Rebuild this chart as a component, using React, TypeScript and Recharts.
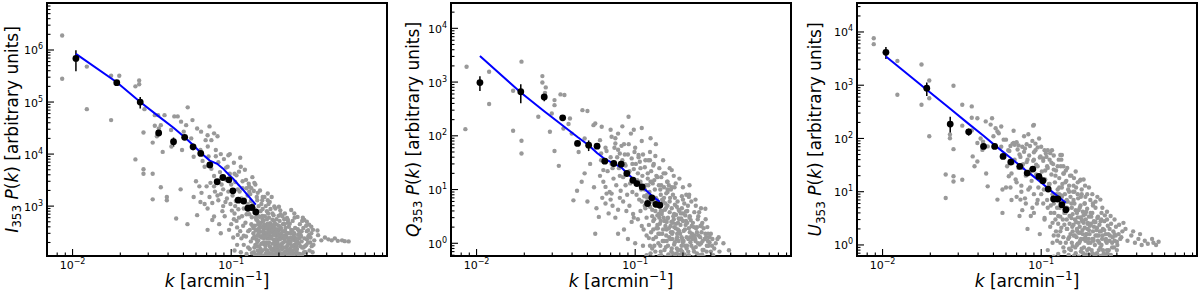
import React from 'react';
import { ScatterChart, Scatter, XAxis, YAxis, ErrorBar, ReferenceArea } from 'recharts';

// binned wavenumbers, shared by the three panels [arcmin^-1]
const kBins = [0.0105, 0.019, 0.0267, 0.0349, 0.0433, 0.0509, 0.0575, 0.0643, 0.0733, 0.0816, 0.0886, 0.0967, 0.1025, 0.1107, 0.1197, 0.1274, 0.135, 0.143];

// I353
const iBinned = [6.9e5, 2.36e5, 1.0e5, 2.54e4, 1.73e4, 2.1e4, 1.38e4, 1.03e4, 6.2e3, 2.94e3, 3.55e3, 3.2e3, 1.97e3, 1.3e3, 1.25e3, 910, 940, 770];
const iSigma = [3.0e5, 2.0e4, 2.5e4, 2.0e3, 3.5e3, 2.0e3, 2.0e3, 1.0e3, 500, 250, 300, 250, 150, 100, 100, 70, 70, 60];
const iModel = [8.4e5, 2.4e5, 1.0e5, 5.3e4, 3.2e4, 2.1e4, 1.5e4, 1.06e4, 7.5e3, 6.5e3, 5.3e3, 4.0e3, 3.4e3, 2.6e3, 2.0e3, 1.6e3, 1.3e3, 1.07e3];
const iScatter: [number, number][] = [
  [0.0086, 1.9e6], [0.0086, 2.8e5], [0.0123, 4.8e5], [0.0123, 7.3e4], [0.0175, 3.2e5], [0.0197, 3.2e5], [0.0175, 4.5e4],
  [0.0249, 2.0e5], [0.0263, 2.6e5], [0.0263, 2.2e5], [0.0284, 7.3e4], [0.0249, 7.9e3], [0.028, 2.6e4], [0.028, 5.1e3],
  [0.028, 4.2e3], [0.032, 1.66e4], [0.032, 4.2e3], [0.032, 1.35e3], [0.033, 5.6e4], [0.0346, 5.6e4], [0.038, 5.6e4],
  [0.033, 3.5e4], [0.036, 3.6e4], [0.035, 3.1e4], [0.034, 2.2e4], [0.036, 2.3e3], [0.0393, 1.5e3], [0.0393, 1.3e3],
  [0.037, 1.1e4], [0.0418, 2.9e4], [0.0438, 5.3e4], [0.046, 5.3e4], [0.045, 580], [0.042, 1.4e4], [0.0483, 4.2e4],
  [0.0532, 7.9e4], [0.052, 3.6e4], [0.0502, 2.7e4], [0.048, 2.1e3], [0.053, 450], [0.049, 1.2e4], [0.056, 2.0e4],
  [0.057, 4.5e4], [0.058, 8.9e3], [0.061, 3.1e4], [0.0646, 2.7e4], [0.064, 1.2e4], [0.066, 7.4e3], [0.06, 3.0e3],
  [0.063, 2.4e3], [0.058, 1.5e3], [0.064, 1.2e3], [0.061, 670], [0.068, 5.7e3], [0.0712, 1.4e4], [0.075, 1.85e4],
  [0.078, 2.5e4], [0.069, 1.85e4], [0.071, 2.3e4], [0.073, 3.4e4], [0.082, 2.2e4], [0.08, 9.1e3], [0.086, 1.0e4],
  [0.098, 1.0e4], [0.095, 5.7e3], [0.088, 3.6e3], [0.078, 2.4e3], [0.082, 1.6e3], [0.071, 900], [0.078, 630],
  [0.071, 350], [0.086, 300], [0.105, 720], [0.105, 4.2e3], [0.115, 5.7e3], [0.124, 3.2e3], [0.13, 2.4e3], [0.14, 2.8e3],
  [0.147, 1.8e3], [0.158, 1.5e3], [0.17, 1.3e3], [0.187, 980], [0.218, 720], [0.228, 540], [0.25, 300], [0.32, 300],
  [0.37, 220], [0.43, 220], [0.45, 240], [0.5, 220], [0.55, 210], [0.35, 340], [0.32, 400], [0.28, 520], [0.25, 720],
  [0.105, 140], [0.353, 277], [0.39, 250], [0.41, 230], [0.47, 215], [0.52, 212], [0.289, 540], [0.306, 346],
  [0.239, 840], [0.2, 970], [0.17, 1750], [0.18, 1500],
  [0.072, 9000], [0.075, 5200], [0.078, 3800], [0.074, 2800], [0.08, 12000], [0.083, 7000], [0.085, 4500],
  [0.087, 2600], [0.079, 1900], [0.09, 8000], [0.092, 1200], [0.088, 800], [0.084, 450], [0.093, 5500], [0.096, 9500],
  [0.098, 4200], [0.1, 2600], [0.102, 1600], [0.104, 6800], [0.106, 1000], [0.108, 3900], [0.11, 2100], [0.112, 600],
  [0.114, 8500], [0.116, 1400], [0.118, 3000], [0.12, 900], [0.097, 350], [0.103, 250], [0.109, 180], [0.119, 420],
  [0.115, 130], [0.122, 5000], [0.125, 2200], [0.127, 1100], [0.13, 700], [0.132, 1700], [0.134, 450], [0.136, 3600],
  [0.138, 300], [0.14, 900], [0.142, 2600], [0.144, 550], [0.146, 1300], [0.148, 220], [0.15, 380], [0.128, 160],
  [0.124, 260], [0.139, 130], [0.145, 170], [0.152, 2000], [0.155, 1100], [0.157, 650], [0.162, 1500], [0.168, 800],
  [0.175, 1200], [0.182, 550], [0.19, 900], [0.199, 650], [0.173, 600], [0.186, 380], [0.205, 700], [0.217, 450],
  [0.228, 480], [0.262, 620], [0.3, 500], [0.31, 280],
  [0.065, 1800], [0.068, 1100], [0.07, 2400], [0.073, 1500], [0.076, 1150], [0.081, 2900], [0.083, 1300], [0.086, 1700],
  [0.089, 2100], [0.091, 640], [0.094, 1400], [0.096, 1900], [0.099, 1100], [0.093, 3200], [0.089, 1000], [0.076, 540],
];
const iCloud: [number, number][] = [
  [0.141, 420], [0.152, 265], [0.163, 180], [0.147, 140], [0.171, 350], [0.158, 560], [0.184, 230], [0.166, 125],
  [0.195, 160], [0.176, 470], [0.149, 300], [0.205, 290], [0.188, 115], [0.213, 200], [0.156, 190], [0.226, 140],
  [0.182, 380], [0.238, 250], [0.169, 240], [0.2, 420], [0.248, 170], [0.161, 360], [0.219, 330], [0.179, 145],
  [0.262, 210], [0.192, 270], [0.233, 120], [0.144, 230], [0.209, 150], [0.274, 280], [0.173, 200], [0.243, 340],
  [0.186, 520], [0.154, 130], [0.228, 205], [0.197, 128], [0.286, 160], [0.167, 300], [0.255, 125], [0.215, 460],
  [0.178, 113], [0.3, 230], [0.203, 360], [0.159, 410], [0.268, 330], [0.236, 155], [0.19, 175], [0.147, 520],
  [0.222, 260], [0.25, 220], [0.174, 260], [0.28, 118], [0.207, 118], [0.164, 150], [0.243, 120], [0.194, 360],
  [0.231, 400], [0.183, 310], [0.26, 150], [0.211, 245],
  [0.101, 820], [0.104, 560], [0.107, 1250], [0.109, 390], [0.111, 870], [0.113, 1900], [0.117, 640], [0.121, 1350],
  [0.123, 480], [0.126, 930], [0.129, 2700], [0.131, 350], [0.133, 1250], [0.106, 2900], [0.112, 4600], [0.118, 2200],
  [0.127, 1600], [0.12, 270], [0.114, 330], [0.108, 520], [0.125, 700], [0.13, 1900],
  [0.135, 610], [0.137, 1050], [0.139, 1950], [0.141, 780], [0.143, 340], [0.145, 1500], [0.147, 660], [0.149, 1000],
  [0.151, 450], [0.153, 800], [0.155, 190], [0.157, 1300], [0.159, 280], [0.16, 520], [0.137, 240], [0.142, 180],
  [0.148, 120], [0.153, 150], [0.134, 2200], [0.14, 160], [0.146, 270], [0.151, 620], [0.156, 390], [0.158, 880],
  [0.136, 420], [0.144, 730],
  [0.161, 240], [0.163, 640], [0.165, 1000], [0.167, 420], [0.169, 140], [0.171, 720], [0.173, 330], [0.175, 170],
  [0.177, 880], [0.179, 260], [0.181, 430], [0.183, 150], [0.185, 670], [0.187, 200], [0.189, 460], [0.191, 120],
  [0.193, 560], [0.195, 230], [0.197, 330], [0.199, 140], [0.162, 310], [0.166, 200], [0.17, 460], [0.174, 125],
  [0.178, 360], [0.182, 720], [0.186, 280], [0.19, 220], [0.194, 440], [0.198, 180], [0.168, 560], [0.176, 240],
  [0.184, 118], [0.192, 340], [0.164, 115], [0.172, 1100],
  [0.202, 520], [0.204, 250], [0.207, 170], [0.21, 640], [0.212, 330], [0.214, 125], [0.217, 240], [0.22, 380],
  [0.223, 160], [0.225, 590], [0.228, 300], [0.231, 190], [0.234, 460], [0.237, 210], [0.24, 130], [0.244, 520],
  [0.247, 290], [0.25, 180], [0.253, 380], [0.256, 240], [0.259, 130], [0.204, 830], [0.216, 560], [0.227, 115],
  [0.239, 350], [0.251, 600], [0.212, 450], [0.224, 250], [0.236, 300], [0.257, 170], [0.206, 380], [0.219, 135],
  [0.242, 240],
  [0.263, 360], [0.267, 190], [0.271, 450], [0.276, 260], [0.28, 160], [0.285, 380], [0.29, 240], [0.295, 130],
  [0.3, 330], [0.305, 200], [0.31, 440], [0.316, 250], [0.322, 170], [0.328, 350], [0.334, 220], [0.27, 120],
  [0.283, 600], [0.297, 420], [0.312, 140], [0.326, 130], [0.264, 280], [0.278, 330], [0.292, 170], [0.306, 260],
];
const iCore: [number, number][] = [
  [0.131, 150], [0.133, 210], [0.135, 125], [0.138, 380], [0.14, 260], [0.142, 115], [0.143, 600], [0.145, 350],
  [0.146, 205], [0.148, 450], [0.15, 170], [0.151, 330], [0.153, 115], [0.154, 480], [0.155, 250], [0.157, 140],
  [0.158, 320], [0.16, 200], [0.161, 112], [0.162, 440], [0.164, 260], [0.165, 175], [0.167, 380], [0.168, 130],
  [0.17, 290], [0.171, 195], [0.172, 110], [0.174, 410], [0.175, 300], [0.177, 160], [0.178, 250], [0.18, 120],
  [0.181, 340], [0.183, 190], [0.185, 140], [0.186, 420], [0.188, 300], [0.189, 160], [0.19, 112], [0.192, 230],
  [0.193, 140], [0.195, 310], [0.196, 200], [0.198, 118], [0.199, 270], [0.201, 165], [0.203, 230], [0.205, 125],
  [0.207, 300], [0.209, 190], [0.211, 112], [0.213, 270], [0.215, 160], [0.218, 210], [0.221, 125], [0.223, 300],
  [0.226, 175], [0.229, 240], [0.232, 140], [0.235, 200], [0.238, 112], [0.241, 175], [0.245, 140], [0.249, 260],
  [0.253, 150], [0.258, 200], [0.263, 120], [0.268, 240], [0.273, 170], [0.278, 210], [0.288, 130], [0.298, 180],
  [0.315, 200], [0.33, 180], [0.12, 180], [0.116, 240], [0.125, 120], [0.128, 330], [0.11, 280], [0.1, 450],
  [0.156, 105], [0.176, 102], [0.196, 104], [0.222, 102], [0.25, 105], [0.14, 104], [0.185, 96], [0.21, 98],
];

// Q353
const qBinned = [980, 660, 530, 216, 72, 67, 64, 33.7, 30.5, 29.6, 19.9, 14.9, 12.9, 11.2, 5.5, 7.0, 5.3, 5.1];
const qSigma = [300, 255, 90, 20, 6, 15, 6, 3, 2.5, 2.5, 1.5, 1.2, 1, 0.9, 0.5, 0.6, 0.4, 0.4];
const qModel = [3050, 640, 287, 155, 95, 67, 48, 37, 30.3, 26, 20.3, 16, 13.6, 11.1, 9.1, 7.7, 6.7, 5.9];
const qScatter: [number, number][] = [
  [0.00865, 1930], [0.0085, 133], [0.012, 1560], [0.012, 390], [0.017, 690], [0.017, 124], [0.0192, 2400], [0.0192, 81],
  [0.0192, 47], [0.0245, 226], [0.026, 1290], [0.026, 980], [0.0273, 795], [0.027, 630], [0.0298, 260], [0.029, 119],
  [0.031, 52], [0.033, 27.6], [0.0338, 590], [0.0358, 575], [0.031, 462], [0.031, 372], [0.0388, 210], [0.0353, 137],
  [0.038, 166], [0.0398, 110], [0.0408, 6.3], [0.0465, 300], [0.05, 290], [0.044, 50], [0.048, 89], [0.048, 20],
  [0.0546, 158], [0.056, 170], [0.0615, 147], [0.06, 83], [0.061, 47], [0.063, 23], [0.065, 11.2], [0.068, 3.6],
  [0.071, 8.4], [0.071, 96], [0.078, 110], [0.075, 72], [0.08, 47], [0.086, 30], [0.0908, 226], [0.059, 3.1],
  [0.056, 1.5], [0.043, 9.5], [0.046, 14], [0.05, 6], [0.052, 30], [0.055, 11], [0.057, 4.5], [0.06, 18], [0.062, 7],
  [0.065, 60], [0.07, 40], [0.072, 25], [0.075, 90], [0.078, 55], [0.08, 18], [0.083, 35], [0.085, 70], [0.087, 12],
  [0.09, 45], [0.092, 22], [0.094, 110], [0.096, 30], [0.1, 60], [0.103, 15], [0.105, 40], [0.108, 25], [0.11, 80],
  [0.113, 11], [0.116, 35], [0.12, 20], [0.124, 50], [0.127, 14], [0.13, 28], [0.134, 42], [0.138, 17], [0.142, 25],
  [0.146, 12], [0.15, 35], [0.155, 20], [0.16, 14], [0.165, 25], [0.17, 11], [0.175, 18], [0.18, 13], [0.19, 16],
  [0.2, 11], [0.21, 8], [0.22, 12], [0.24, 6.5], [0.26, 4.5], [0.277, 4.4], [0.218, 7.3], [0.336, 1.3], [0.07, 130],
  [0.083, 150], [0.098, 130], [0.11, 140], [0.125, 90], [0.135, 70], [0.066, 8.4], [0.072, 5], [0.08, 7], [0.088, 4],
  [0.095, 2.5], [0.085, 1.8], [0.075, 3], [0.09, 1.2], [0.1, 1.0], [0.078, 1.5], [0.124, 35], [0.105, 44], [0.17, 23],
];
const qCloud: [number, number][] = [
  [0.102, 8], [0.115, 5], [0.128, 3.2], [0.11, 2.1], [0.135, 7], [0.121, 12], [0.148, 4], [0.14, 1.5], [0.158, 2.5],
  [0.132, 0.9], [0.165, 6], [0.152, 1.1], [0.176, 3.5], [0.118, 1.4], [0.186, 1.8], [0.17, 0.8], [0.197, 4.5],
  [0.145, 0.7], [0.208, 2.2], [0.182, 1.2], [0.22, 3], [0.194, 0.75], [0.232, 1.4], [0.125, 0.65], [0.245, 2],
  [0.212, 0.9], [0.26, 1], [0.16, 9], [0.235, 0.7], [0.28, 1.3], [0.108, 4], [0.138, 2.2], [0.168, 1.6], [0.19, 2.8],
  [0.2, 1.05], [0.227, 2.1], [0.155, 5.5], [0.144, 10], [0.178, 7], [0.215, 5], [0.25, 3.2], [0.27, 0.75], [0.3, 1.5],
  [0.162, 0.62], [0.205, 0.62], [0.13, 1.8], [0.119, 7], [0.173, 2.4], [0.24, 1.1], [0.188, 4.2], [0.098, 3],
  [0.112, 0.9], [0.142, 3], [0.157, 1.4], [0.2, 6.5], [0.222, 1.3], [0.183, 0.65], [0.265, 2.4], [0.29, 0.9],
  [0.33, 1.2], [0.36, 1.0], [0.39, 0.74], [0.34, 0.7],
  [0.061, 35], [0.063, 14], [0.066, 52], [0.067, 22], [0.069, 9], [0.071, 30], [0.073, 16], [0.074, 60], [0.076, 12],
  [0.077, 40], [0.079, 25], [0.081, 9.5], [0.082, 65], [0.084, 17], [0.086, 45], [0.087, 28], [0.089, 8], [0.09, 20],
  [0.091, 70], [0.093, 13], [0.095, 38], [0.096, 9], [0.098, 24], [0.099, 50], [0.065, 5.5], [0.07, 6.5], [0.078, 4.2],
  [0.084, 6], [0.092, 5], [0.097, 3.5],
  [0.101, 30], [0.102, 13], [0.104, 20], [0.106, 6.5], [0.107, 33], [0.109, 10], [0.111, 18], [0.112, 45], [0.114, 7.5],
  [0.115, 26], [0.117, 12], [0.118, 3], [0.12, 16], [0.121, 35], [0.123, 9], [0.124, 4.8], [0.126, 22], [0.127, 6],
  [0.129, 13], [0.13, 2.6], [0.131, 30], [0.133, 10], [0.134, 4], [0.136, 18], [0.137, 6.5], [0.139, 1.9],
  [0.104, 2.8], [0.113, 1.8], [0.122, 1.25], [0.128, 0.8], [0.135, 1.3], [0.116, 4.5], [0.108, 14], [0.119, 8],
  [0.132, 15], [0.138, 3.3],
  [0.141, 12], [0.142, 5], [0.143, 2.3], [0.145, 8], [0.146, 17], [0.147, 3.5], [0.149, 1.1], [0.15, 6], [0.152, 11],
  [0.153, 2.6], [0.154, 4.2], [0.156, 0.85], [0.157, 8.5], [0.158, 1.8], [0.16, 5], [0.161, 3], [0.163, 12],
  [0.164, 1.3], [0.166, 7], [0.167, 2.1], [0.169, 0.7], [0.17, 4.5], [0.172, 1.6], [0.173, 8], [0.175, 2.8],
  [0.176, 0.95], [0.178, 5.2], [0.18, 1.9], [0.181, 3.4], [0.183, 0.8], [0.185, 6], [0.186, 2.4], [0.188, 1.1],
  [0.19, 4], [0.192, 1.5], [0.193, 0.62], [0.195, 2.9], [0.197, 7.5], [0.198, 1.2], [0.2, 3.6], [0.144, 0.9],
  [0.151, 20], [0.159, 14], [0.168, 10], [0.177, 11], [0.148, 1.5], [0.162, 0.6], [0.171, 1.2], [0.184, 1.5],
  [0.196, 0.9],
  [0.202, 1.7], [0.204, 5.5], [0.206, 0.9], [0.209, 2.6], [0.211, 1.3], [0.213, 4], [0.216, 0.7], [0.218, 1.9],
  [0.221, 3.2], [0.223, 1.05], [0.226, 6], [0.228, 1.5], [0.231, 2.4], [0.233, 0.8], [0.236, 3.8], [0.239, 1.2],
  [0.242, 1.9], [0.245, 0.65], [0.248, 2.8], [0.251, 1.4], [0.255, 0.95], [0.258, 2.1], [0.262, 1.6], [0.266, 0.75],
  [0.27, 1.9], [0.274, 1.2], [0.278, 2.8], [0.283, 0.9], [0.288, 1.5], [0.294, 1.05], [0.3, 0.7], [0.307, 1.2],
  [0.315, 0.8], [0.322, 1.0], [0.207, 3.3], [0.219, 8], [0.241, 5], [0.253, 3.8], [0.264, 0.62], [0.285, 2],
];
const qCore: [number, number][] = [
  [0.122, 2.2], [0.124, 0.9], [0.126, 1.6], [0.128, 4.2], [0.13, 1.2], [0.132, 2.8], [0.134, 0.7], [0.136, 1.9],
  [0.138, 5], [0.14, 1], [0.141, 3.5], [0.143, 1.5], [0.145, 2.6], [0.146, 0.6], [0.148, 6.5], [0.15, 1.8], [0.151, 3],
  [0.153, 0.75], [0.155, 2.1], [0.156, 4.5], [0.158, 1.1], [0.16, 2.9], [0.161, 0.9], [0.163, 1.9], [0.165, 3.8],
  [0.166, 1.2], [0.168, 0.55], [0.169, 2.5], [0.171, 1.5], [0.173, 0.65], [0.174, 3.2], [0.176, 2], [0.178, 1.05],
  [0.179, 0.6], [0.181, 2.3], [0.183, 4.8], [0.184, 1.3], [0.186, 0.75], [0.188, 2.9], [0.189, 1.7], [0.191, 0.58],
  [0.193, 2.2], [0.194, 3.6], [0.196, 1.3], [0.198, 0.7], [0.2, 2.6], [0.202, 1.1], [0.204, 0.55], [0.206, 1.8],
  [0.209, 3.9], [0.211, 0.8], [0.213, 2.4], [0.216, 1.2], [0.218, 0.6], [0.221, 1.6], [0.224, 2.7], [0.226, 0.9],
  [0.229, 1.2], [0.232, 0.55], [0.235, 2], [0.238, 1.4], [0.241, 0.85], [0.245, 1.6], [0.249, 1.0], [0.253, 0.6],
  [0.257, 1.3], [0.262, 2.2], [0.266, 1.1], [0.272, 0.55], [0.277, 1.5], [0.282, 0.7], [0.287, 1.1], [0.295, 1.3],
  [0.305, 0.9], [0.31, 0.6], [0.118, 0.6], [0.13, 0.55], [0.142, 0.58], [0.155, 0.55], [0.17, 0.5], [0.185, 0.52],
  [0.197, 0.5], [0.215, 0.5], [0.228, 0.52], [0.11, 6], [0.115, 10], [0.125, 14], [0.133, 6], [0.145, 4], [0.152, 7],
  [0.16, 10],
];

// U353
const uBinned = [4150, 880, 186, 133, 71, 71, 46, 36, 30, 22.4, 26.6, 19.4, 16.1, 11.2, 7.3, 7.3, 5.7, 4.6];
const uSigma = [1050, 250, 70, 20, 6, 5, 4, 3, 2.5, 2, 2, 1.5, 1.2, 1, 0.6, 0.6, 0.5, 0.4];
const uModel = [3450, 820, 360, 188, 112, 75, 56, 43, 31, 24, 19.8, 16, 13.9, 11.5, 9.5, 8.2, 7.1, 6.2];
const uScatter: [number, number][] = [
  [0.0088, 7600], [0.0088, 5900], [0.0124, 2860], [0.0124, 660], [0.0176, 2450], [0.0176, 430], [0.0197, 1230],
  [0.0197, 570], [0.0197, 110], [0.028, 975], [0.0266, 119], [0.0266, 101], [0.025, 21], [0.025, 7.6], [0.028, 19.5],
  [0.028, 15.5], [0.0318, 430], [0.0318, 174], [0.0318, 16.8], [0.0365, 400], [0.0365, 245], [0.0365, 141],
  [0.028, 63], [0.0396, 240], [0.0447, 209], [0.0396, 82], [0.0415, 100], [0.043, 87], [0.0426, 61], [0.046, 71],
  [0.048, 182], [0.049, 240], [0.05, 110], [0.053, 135], [0.0516, 155], [0.056, 168], [0.054, 125], [0.058, 95],
  [0.045, 22], [0.0396, 37], [0.038, 30], [0.037, 46], [0.046, 12.6], [0.053, 7.1], [0.057, 11], [0.057, 4],
  [0.0625, 19.5], [0.0672, 82], [0.064, 72], [0.068, 76], [0.072, 74], [0.076, 70], [0.078, 110], [0.081, 78],
  [0.085, 72], [0.092, 80], [0.095, 68], [0.089, 174], [0.09, 180], [0.074, 7.1], [0.086, 3.5], [0.09, 40],
  [0.099, 46], [0.109, 30], [0.12, 26], [0.132, 49], [0.138, 30], [0.114, 53], [0.105, 60],
  [0.062, 60], [0.066, 35], [0.07, 85], [0.073, 50], [0.076, 28], [0.079, 65], [0.082, 40], [0.085, 22], [0.088, 90],
  [0.09, 55], [0.093, 32], [0.096, 18], [0.1, 70], [0.103, 42], [0.106, 25], [0.11, 60], [0.113, 14], [0.116, 35],
  [0.12, 48], [0.123, 20], [0.127, 30], [0.13, 12], [0.134, 40], [0.138, 22], [0.142, 15], [0.146, 28], [0.15, 10],
  [0.155, 20], [0.16, 13], [0.165, 24], [0.17, 9], [0.175, 16], [0.18, 11], [0.185, 17], [0.19, 8], [0.2, 12],
  [0.21, 9], [0.22, 6.5], [0.236, 7.1], [0.177, 16.8], [0.135, 49], [0.07, 15], [0.075, 10], [0.08, 6], [0.085, 12],
  [0.09, 4], [0.095, 7], [0.1, 9], [0.105, 3], [0.11, 5], [0.073, 3.5], [0.082, 2], [0.098, 1.6], [0.065, 7],
  [0.06, 12],
  [0.32, 1.4], [0.35, 1.2], [0.37, 1.5], [0.39, 1.1], [0.41, 1.3], [0.43, 1.0], [0.45, 1.2], [0.47, 1.05], [0.5, 1.3],
  [0.51, 1.1], [0.53, 1.0], [0.55, 1.15], [0.34, 2], [0.38, 1.8], [0.42, 1.6],
];
const uCloud: [number, number][] = [
  [0.12, 6], [0.128, 3.5], [0.124, 1.8], [0.135, 8], [0.14, 2.4], [0.145, 5], [0.132, 1.1], [0.15, 1.4], [0.155, 3.2],
  [0.16, 7], [0.164, 0.9], [0.168, 2], [0.172, 4.5], [0.176, 1.2], [0.18, 3], [0.184, 0.7], [0.188, 6], [0.192, 1.6],
  [0.196, 2.5], [0.2, 0.85], [0.205, 4], [0.21, 1.3], [0.215, 2.2], [0.22, 0.65], [0.226, 3.2], [0.232, 1.1],
  [0.238, 1.8], [0.245, 0.8], [0.25, 2.8], [0.256, 1.3], [0.262, 0.7], [0.27, 2], [0.28, 1.1], [0.29, 1.6], [0.3, 0.8],
  [0.14, 0.75], [0.158, 1.8], [0.17, 1.05], [0.19, 3.8], [0.2, 1.9], [0.212, 5.5], [0.225, 1.5], [0.24, 4], [0.26, 3],
  [0.148, 11], [0.162, 10], [0.178, 8], [0.195, 9], [0.185, 1.3], [0.255, 0.65], [0.128, 0.68], [0.118, 1.1],
  [0.11, 0.8], [0.2, 0.65], [0.22, 2.7], [0.33, 2.6],
  [0.056, 70], [0.058, 45], [0.06, 95], [0.061, 30], [0.063, 58], [0.065, 22], [0.066, 80], [0.068, 40], [0.069, 17],
  [0.071, 62], [0.072, 28], [0.074, 45], [0.075, 13], [0.077, 33], [0.078, 56], [0.08, 20], [0.081, 36], [0.083, 11],
  [0.084, 48], [0.086, 26], [0.087, 16], [0.089, 38], [0.09, 9], [0.092, 60], [0.093, 21], [0.095, 30], [0.096, 12],
  [0.098, 44], [0.099, 17], [0.064, 12], [0.07, 8], [0.079, 7.5], [0.088, 5], [0.094, 6], [0.076, 4.5], [0.067, 140],
  [0.083, 120], [0.097, 100],
  [0.101, 24], [0.103, 38], [0.104, 11], [0.106, 17], [0.107, 52], [0.109, 7], [0.11, 28], [0.112, 14], [0.113, 40],
  [0.115, 5.5], [0.116, 21], [0.118, 9], [0.119, 33], [0.121, 4], [0.122, 15], [0.124, 25], [0.125, 7], [0.127, 11],
  [0.128, 2.5], [0.13, 18], [0.131, 5], [0.133, 30], [0.134, 8.5], [0.136, 14], [0.137, 3], [0.139, 22], [0.105, 3.2],
  [0.114, 2.2], [0.12, 1.5], [0.126, 1.2], [0.132, 1.8], [0.138, 0.9], [0.108, 45], [0.117, 60], [0.129, 40],
  [0.141, 9], [0.142, 4], [0.144, 16], [0.145, 2], [0.147, 6.5], [0.148, 1.3], [0.15, 13], [0.151, 3.5], [0.153, 8],
  [0.154, 0.8], [0.156, 5], [0.157, 2.2], [0.159, 10], [0.16, 1.5], [0.162, 6], [0.163, 3], [0.165, 0.7], [0.166, 12],
  [0.168, 4], [0.169, 1.8], [0.171, 7.5], [0.172, 2.6], [0.174, 1.1], [0.175, 5], [0.177, 3.3], [0.178, 0.75],
  [0.18, 9], [0.182, 1.9], [0.183, 4.2], [0.185, 2.6], [0.186, 0.9], [0.188, 6], [0.19, 1.4], [0.191, 3],
  [0.193, 0.66], [0.195, 4.8], [0.196, 2], [0.198, 1.1], [0.2, 3.4], [0.143, 25], [0.152, 20], [0.161, 18],
  [0.17, 15], [0.149, 0.65], [0.158, 0.95], [0.167, 1.4], [0.176, 1.7], [0.189, 13],
  [0.202, 1.6], [0.204, 7], [0.206, 2.5], [0.208, 0.8], [0.21, 4], [0.213, 1.3], [0.215, 2.8], [0.218, 1.0], [0.22, 5],
  [0.223, 1.9], [0.225, 0.7], [0.228, 3.4], [0.231, 1.5], [0.233, 2.4], [0.236, 0.9], [0.239, 3], [0.242, 1.3],
  [0.245, 2], [0.248, 0.7], [0.252, 3.6], [0.255, 1.6], [0.259, 1.1], [0.263, 2.3], [0.267, 0.8], [0.271, 1.5],
  [0.276, 2.5], [0.28, 0.9], [0.285, 1.8], [0.29, 1.2], [0.296, 2.2], [0.302, 1.0], [0.308, 1.6], [0.315, 1.3],
  [0.212, 6], [0.226, 8], [0.243, 5], [0.26, 4.2], [0.274, 3.5], [0.29, 3], [0.31, 2.4], [0.325, 1.8], [0.217, 0.66],
  [0.237, 0.62],
];
const uCore: [number, number][] = [
  [0.115, 4], [0.118, 2.6], [0.121, 7], [0.123, 3], [0.126, 5], [0.128, 1.5], [0.13, 9], [0.132, 3.4], [0.134, 2.1],
  [0.136, 5.5], [0.138, 1.4], [0.14, 4], [0.141, 6.5], [0.143, 1.1], [0.145, 3], [0.146, 2], [0.148, 4.8], [0.15, 0.85],
  [0.151, 2.5], [0.153, 1.6], [0.155, 6], [0.156, 1.1], [0.158, 3.8], [0.16, 2.4], [0.161, 0.62], [0.163, 1.5],
  [0.165, 4.5], [0.166, 2.7], [0.168, 1], [0.17, 3.3], [0.172, 1.7], [0.173, 0.6], [0.175, 2.2], [0.177, 5.5],
  [0.178, 1.3], [0.18, 0.85], [0.182, 2.8], [0.183, 1.6], [0.185, 3.6], [0.187, 0.6], [0.188, 2.1], [0.19, 1.2],
  [0.192, 4.2], [0.194, 1.6], [0.195, 0.8], [0.197, 2.6], [0.199, 1.3], [0.201, 0.55], [0.203, 2.3], [0.205, 1.1],
  [0.207, 3.4], [0.21, 0.7], [0.212, 1.8], [0.214, 1.2], [0.217, 2.7], [0.22, 1.5], [0.222, 0.55], [0.225, 2.1],
  [0.228, 1.2], [0.231, 0.8], [0.234, 1.8], [0.237, 2.8], [0.24, 1], [0.244, 1.5], [0.247, 0.6], [0.25, 1.9],
  [0.255, 1.2], [0.26, 0.8], [0.265, 1.6], [0.27, 1.2], [0.275, 0.65], [0.282, 1.4], [0.288, 0.9], [0.295, 1.5],
  [0.3, 1.15], [0.14, 0.55], [0.155, 0.5], [0.168, 0.52], [0.183, 0.5], [0.196, 0.55], [0.21, 0.5], [0.232, 0.55],
  [0.12, 0.6], [0.125, 9], [0.135, 12], [0.145, 7], [0.103, 6], [0.11, 12], [0.1, 18],
];

// axes
const xDomain: [number, number] = [0.0069, 0.96];
const xMajor = [0.01, 0.1];
const xMajorExp = ['−2', '−1'];
const xMinor = [0.008, 0.009, 0.02, 0.03, 0.04, 0.05, 0.06, 0.07, 0.08, 0.09, 0.2, 0.3, 0.4, 0.5, 0.6, 0.7, 0.8, 0.9];

const iDomain: [number, number] = [110, 8e6];
const iMajor = [1e3, 1e4, 1e5, 1e6];
const iMajorExp = ['3', '4', '5', '6'];
const iMinor = [200, 300, 400, 500, 600, 700, 800, 900, 2e3, 3e3, 4e3, 5e3, 6e3, 7e3, 8e3, 9e3, 2e4, 3e4, 4e4, 5e4, 6e4, 7e4, 8e4, 9e4, 2e5, 3e5, 4e5, 5e5, 6e5, 7e5, 8e5, 9e5, 2e6, 3e6, 4e6, 5e6, 6e6, 7e6];

const qDomain: [number, number] = [0.58, 2.96e4];
const uDomain: [number, number] = [0.62, 3.5e4];
const quMajor = [1, 10, 100, 1e3, 1e4];
const quMajorExp = ['0', '1', '2', '3', '4'];
const qMinor = [0.6, 0.7, 0.8, 0.9, 2, 3, 4, 5, 6, 7, 8, 9, 20, 30, 40, 50, 60, 70, 80, 90, 200, 300, 400, 500, 600, 700, 800, 900, 2e3, 3e3, 4e3, 5e3, 6e3, 7e3, 8e3, 9e3, 2e4];
const uMinor = [0.7, 0.8, 0.9, 2, 3, 4, 5, 6, 7, 8, 9, 20, 30, 40, 50, 60, 70, 80, 90, 200, 300, 400, 500, 600, 700, 800, 900, 2e3, 3e3, 4e3, 5e3, 6e3, 7e3, 8e3, 9e3, 2e4, 3e4];

const panelSymbols = ['I', 'Q', 'U'];

const FONT = '"DejaVu Sans", sans-serif';

const GrayDot = (p: any) => <circle cx={p.cx} cy={p.cy} r={2.2} fill="#999999" />;
const BlackDot = (p: any) => <circle cx={p.cx} cy={p.cy} r={3.4} fill="#000" />;
const NoDot = () => <g />;

const makeXTick = () => (props: any) => {
  const { x, y, payload } = props;
  const idx = xMajor.indexOf(payload.value);
  const major = idx >= 0;
  return (
    <g>
      <line x1={x} x2={x} y1={y} y2={y - (major ? 7 : 3.5)} stroke="#000" strokeWidth={1.1} />
      {major && (
        <text x={x} y={y + 13} textAnchor="middle" fontSize={11} fontFamily={FONT} fill="#000">
          10<tspan dy={-5} fontSize={8}>{xMajorExp[idx]}</tspan>
        </text>
      )}
    </g>
  );
};

const makeYTick = (majors: number[], exps: string[]) => (props: any) => {
  const { x, y, payload } = props;
  const idx = majors.indexOf(payload.value);
  const major = idx >= 0;
  return (
    <g>
      <line x1={x} x2={x + (major ? 7 : 3.5)} y1={y} y2={y} stroke="#000" strokeWidth={1.1} />
      {major && (
        <text x={x - 4} y={y + 4.5} textAnchor="end" fontSize={11} fontFamily={FONT} fill="#000">
          10<tspan dy={-5} fontSize={8}>{exps[idx]}</tspan>
        </text>
      )}
    </g>
  );
};

type PanelProps = {
  scatter: [number, number][];
  binned: number[];
  sigma: number[];
  model: number[];
  yDomain: [number, number];
  yMajor: number[];
  yMajorExp: string[];
  yMinor: number[];
  yAxisWidth: number;
  right: number;
};

const Panel = ({ scatter, binned, sigma, model, yDomain, yMajor, yMajorExp, yMinor, yAxisWidth, right }: PanelProps) => {
  const grayData = scatter.map(([k, p]) => ({ k, p }));
  const binData = kBins.map((k, i) => ({ k, p: binned[i], err: sigma[i] }));
  const modelData = kBins.map((k, i) => ({ k, p: model[i] }));
  const xTicks = [...xMinor, ...xMajor].sort((a, b) => a - b);
  const yTicks = [...yMinor, ...yMajor].sort((a, b) => a - b);

  return (
    <ScatterChart width={400} height={293} margin={{ top: 3, right, bottom: 0, left: 0 }}>
      <XAxis
        dataKey="k"
        type="number"
        scale="log"
        domain={xDomain}
        allowDataOverflow
        ticks={xTicks}
        interval={0}
        tick={makeXTick()}
        tickLine={false}
        axisLine={false}
        tickSize={0}
        tickMargin={0}
        height={37}
      />
      <YAxis
        dataKey="p"
        type="number"
        scale="log"
        domain={yDomain}
        allowDataOverflow
        ticks={yTicks}
        interval={0}
        tick={makeYTick(yMajor, yMajorExp)}
        tickLine={false}
        axisLine={false}
        tickSize={0}
        tickMargin={0}
        width={yAxisWidth}
      />
      <Scatter data={grayData} shape={GrayDot} isAnimationActive={false} />
      <Scatter data={modelData} shape={NoDot} line={{ stroke: '#0000ff', strokeWidth: 2 }} isAnimationActive={false} />
      <Scatter data={binData} shape={BlackDot} isAnimationActive={false}>
        <ErrorBar dataKey="err" direction="y" width={0} stroke="#000" strokeWidth={1.5} isAnimationActive={false} />
      </Scatter>
      <ReferenceArea x1={xDomain[0]} x2={xDomain[1]} y1={yDomain[0]} y2={yDomain[1]} fill="none" fillOpacity={0} stroke="#000" strokeWidth={2} />
    </ScatterChart>
  );
};

// label positions (absolute page coords)
const yLabelX = [17.5, 418.5, 821];
const xLabelX = [217, 621, 1027];

export default function App() {
  return (
    <div style={{ position: 'absolute', left: 0, top: 0, width: 1200, height: 293, background: '#fff' }}>
      <div style={{ display: 'flex' }}>
        <Panel scatter={[...iScatter, ...iCloud, ...iCore]} binned={iBinned} sigma={iSigma} model={iModel} yDomain={iDomain} yMajor={iMajor} yMajorExp={iMajorExp} yMinor={iMinor} yAxisWidth={47} right={13} />
        <Panel scatter={[...qScatter, ...qCloud, ...qCore]} binned={qBinned} sigma={qSigma} model={qModel} yDomain={qDomain} yMajor={quMajor} yMajorExp={quMajorExp} yMinor={qMinor} yAxisWidth={51} right={9} />
        <Panel scatter={[...uScatter, ...uCloud, ...uCore]} binned={uBinned} sigma={uSigma} model={uModel} yDomain={uDomain} yMajor={quMajor} yMajorExp={quMajorExp} yMinor={uMinor} yAxisWidth={57} right={3} />
      </div>
      <svg width={1200} height={293} style={{ position: 'absolute', left: 0, top: 0, pointerEvents: 'none' }}>
        {panelSymbols.map((sym, i) => (
          <g key={sym} fontFamily={FONT} fontSize={17} fill="#000">
            <text transform={`translate(${yLabelX[i]},129.5) rotate(-90)`} textAnchor="middle">
              <tspan fontStyle="italic">{sym}</tspan>
              <tspan fontSize={12} dy={3.5}>353</tspan>
              <tspan dy={-3.5}> </tspan>
              <tspan fontStyle="italic">P</tspan>(<tspan fontStyle="italic">k</tspan>) [arbitrary units]
            </text>
            <text x={xLabelX[i]} y={287} textAnchor="middle">
              <tspan fontStyle="italic">k</tspan> [arcmin<tspan fontSize={12} dy={-7}>−1</tspan>
              <tspan dy={7}>]</tspan>
            </text>
          </g>
        ))}
      </svg>
    </div>
  );
}
